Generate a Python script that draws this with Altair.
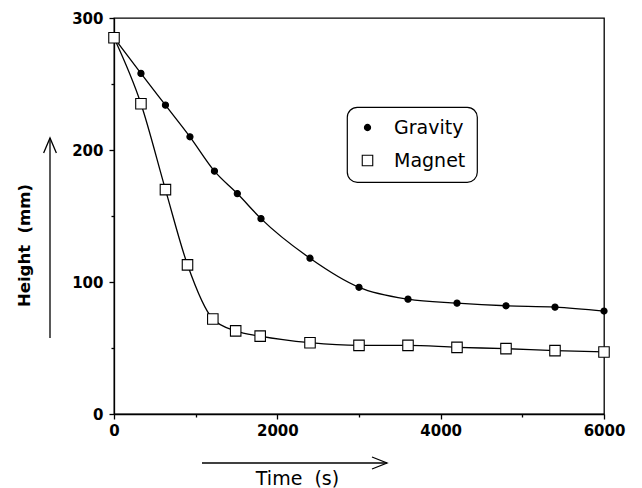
import altair as alt
import pandas as pd

series_names = ["Gravity", "Magnet"]
time_gravity = [0, 330, 630, 930, 1230, 1510, 1800, 2400, 3000, 3600, 4200, 4800, 5400, 6000]
height_gravity = [285, 258, 234, 210, 184, 167, 148, 118, 96, 87, 84, 82, 81, 78]
time_magnet = [0, 330, 630, 900, 1210, 1490, 1790, 2400, 3000, 3600, 4200, 4800, 5400, 6000]
height_magnet = [285, 235, 170, 113, 72, 63, 59, 54, 52, 52, 50.5, 49.5, 48, 47]
x_ticks = [0, 1000, 2000, 3000, 4000, 5000, 6000]
y_ticks = [0, 50, 100, 150, 200, 250, 300]

df = pd.concat([
    pd.DataFrame({"time": time_gravity, "height": height_gravity, "series": series_names[0]}),
    pd.DataFrame({"time": time_magnet, "height": height_magnet, "series": series_names[1]}),
], ignore_index=True)

FONT = "DejaVu Sans"
NB = "\u00a0"

x_enc = alt.X("time:Q", scale=alt.Scale(domain=[0, 6000], nice=False),
              axis=alt.Axis(values=x_ticks, format="d", title=f"Time{NB}{NB}(s)", labelFlush=False,
                            labelExpr="datum.value % 2000 == 0 ? datum.label : ''",
                            tickSize={"condition": {"test": "datum.value % 2000 == 0", "value": 5}, "value": 3},
                            titleX=183, titleY=70, titleAlign="center", titleBaseline="alphabetic",
                            titleFontSize=19, titleFontWeight="normal", labelPadding=4))
y_enc = alt.Y("height:Q", scale=alt.Scale(domain=[0, 300], nice=False),
              axis=alt.Axis(values=y_ticks, format="d", title=f"Height{NB}{NB}(mm)", labelFlush=False,
                            labelExpr="datum.value % 100 == 0 ? datum.label : ''",
                            tickSize={"condition": {"test": "datum.value % 100 == 0", "value": 5}, "value": 3},
                            titleX=-90, titleY=227, titleAngle=270, titleAlign="center",
                            titleBaseline="middle", titleFontSize=16.5, titleFontWeight="bold",
                            labelPadding=6))

lines = alt.Chart(df).mark_line(color="black", strokeWidth=1.3, interpolate="monotone").encode(
    x=x_enc, y=y_enc, detail="series:N")

points = alt.Chart(df).mark_point(filled=False, color="black", strokeWidth=1.1,
                                  opacity=1, fillOpacity=1).encode(
    x="time:Q", y="height:Q",
    shape=alt.Shape("series:N", scale=alt.Scale(domain=series_names, range=["circle", "square"]),
                    legend=alt.Legend(title=None)),
    fill=alt.Fill("series:N", scale=alt.Scale(domain=series_names, range=["black", "white"]),
                  legend=alt.Legend(title=None)),
    stroke=alt.Stroke("series:N", scale=alt.Scale(domain=series_names, range=["black", "black"]),
                      legend=alt.Legend(title=None)),
    size=alt.Size("series:N", scale=alt.Scale(domain=series_names, range=[38, 110]),
                  legend=alt.Legend(title=None)),
    order=alt.Order("series:N", sort="ascending"),
)

one = alt.Data(values=[{}])
arrow_style = dict(color="black", strokeWidth=1.3)
v_line = alt.Chart(one).mark_rule(**arrow_style).encode(
    x=alt.value(-64), y=alt.value(120), y2=alt.value(320))
h_line = alt.Chart(one).mark_rule(**arrow_style).encode(
    x=alt.value(88), x2=alt.value(273), y=alt.value(445))
v_head = alt.Chart(one).mark_point(shape="M-0.85,1L0,-1L0.85,1", filled=False, color="black",
                                   strokeWidth=1.3, opacity=1, size=225).encode(
    x=alt.value(-64), y=alt.value(127.5))
h_head = alt.Chart(one).mark_point(shape="M-1,-0.8L1,0L-1,0.8", filled=False, color="black",
                                   strokeWidth=1.3, opacity=1, size=225).encode(
    x=alt.value(265.5), y=alt.value(445))

chart = alt.layer(lines, points, v_line, h_line, v_head, h_head).properties(
    width=490, height=396,
    autosize=alt.AutoSizeParams(type="none"),
    padding={"left": 106, "top": 10, "right": 24, "bottom": 76},
).configure_view(stroke="black", strokeWidth=1.3).configure_axis(
    grid=False, domainColor="black", domainWidth=1.3, tickColor="black", tickWidth=1.3,
    labelFont=FONT, labelFontSize=15, labelFontWeight="bold", labelColor="black",
    titleFont=FONT, titleColor="black",
).configure_legend(
    orient="none", legendX=233, legendY=89, padding=11, labelOffset=17, rowPadding=13,
    strokeColor="black", cornerRadius=10, fillColor="white", strokeWidth=1.2,
    labelFont=FONT, labelFontSize=19, labelColor="black",
    symbolStrokeColor="black", symbolStrokeWidth=1.1,
)

chart.save("out.html", embed_options={"renderer": "svg", "actions": False})
